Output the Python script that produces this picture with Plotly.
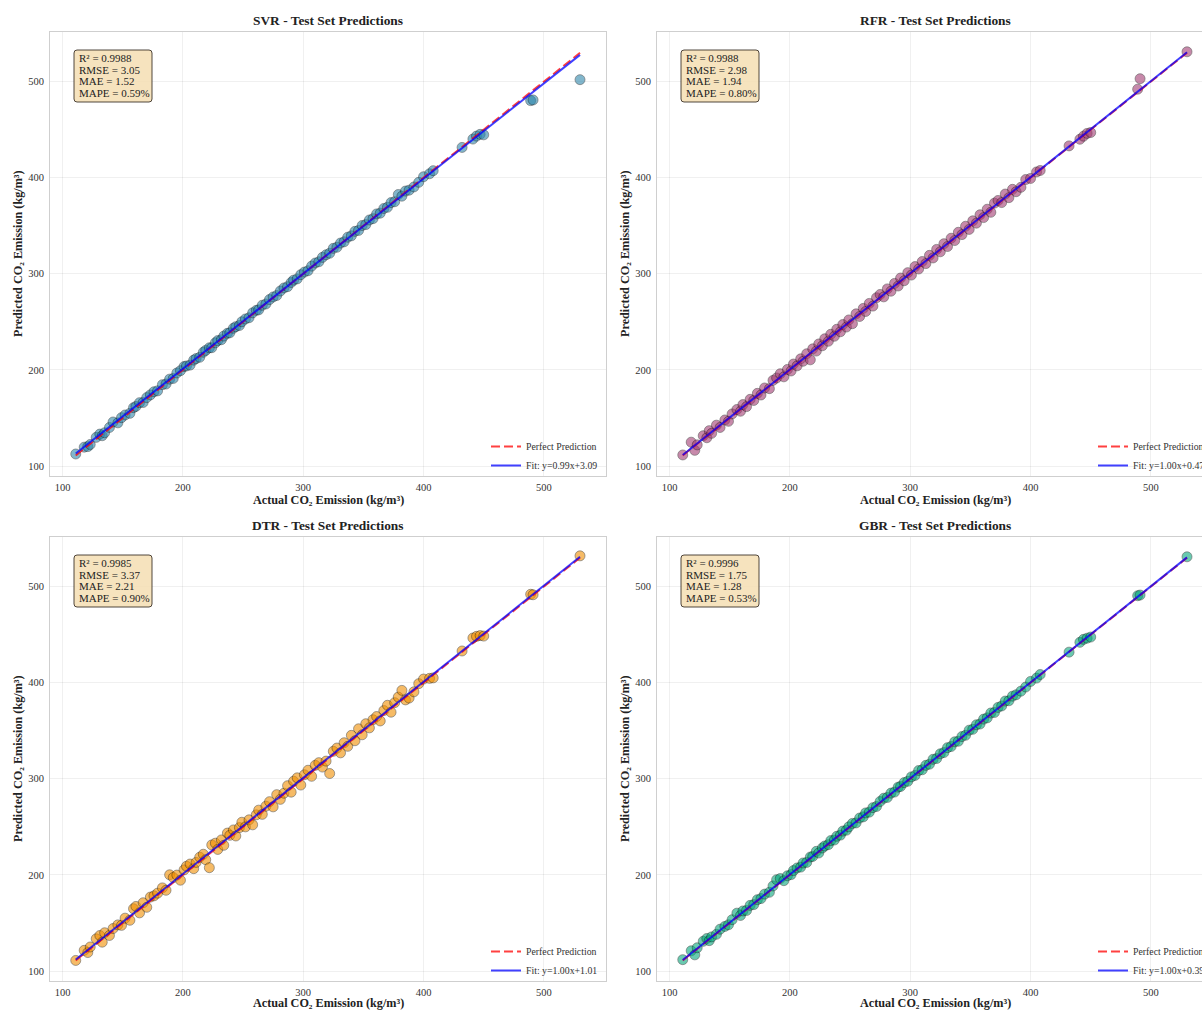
import plotly.graph_objects as go

W, H = 1202, 1010

models = ["SVR", "RFR", "DTR", "GBR"]

actual = [
    111, 118, 121, 123, 128, 131, 133, 135, 139, 142,
    146, 149, 152, 156, 159, 161, 164, 167, 170, 173,
    176, 179, 183, 186, 189, 192, 195, 198, 201, 203,
    206, 209, 211, 214, 217, 219, 222, 224, 227, 229,
    232, 234, 237, 239, 242, 244, 247, 249, 252, 255,
    258, 261, 263, 266, 269, 272, 275, 278, 281, 284,
    287, 290, 292, 295, 298, 301, 304, 307, 310, 313,
    316, 319, 322, 325, 328, 331, 334, 337, 340, 343,
    346, 349, 352, 355, 358, 361, 364, 367, 370, 373,
    376, 379, 382, 385, 388, 392, 396, 400, 405, 408,
    432, 441, 444, 447, 450, 489, 491, 530,
]

pred_svr = [
    112.5, 119.6, 120.2, 122.4, 129.8, 133.2, 131.5, 134.6, 140.1, 145.8,
    144.9, 150.3, 153.1, 154.8, 160.7, 162.0, 165.9, 166.1, 171.2, 174.0,
    177.3, 178.2, 184.6, 185.3, 190.4, 191.1, 196.8, 199.2, 203.5, 204.1,
    205.0, 210.2, 211.8, 213.1, 218.4, 220.3, 223.0, 223.1, 228.2, 230.5,
    231.4, 235.2, 238.1, 238.6, 243.4, 245.0, 246.2, 250.1, 253.0, 254.3,
    259.4, 262.0, 262.5, 267.3, 268.6, 273.2, 275.9, 277.4, 282.1, 285.3,
    286.6, 291.0, 293.4, 294.7, 299.1, 301.8, 303.2, 308.0, 311.2, 312.5,
    317.1, 319.8, 321.4, 326.5, 327.6, 332.0, 333.3, 338.1, 339.5, 344.2,
    345.1, 350.3, 351.2, 356.0, 357.4, 362.3, 363.1, 368.0, 369.2, 374.1,
    375.0, 382.5, 380.8, 386.1, 387.0, 390.4, 395.2, 401.0, 404.1, 407.3,
    431.5, 440.2, 443.3, 445.1, 444.6, 480.2, 480.9, 502.0,
]

pred_rfr = [
    111.5, 124.8, 116.3, 122.0, 131.5, 129.4, 136.8, 134.0, 142.5, 140.1,
    147.9, 146.5, 154.2, 158.8, 157.0, 163.9, 161.8, 169.4, 168.2, 175.6,
    173.9, 181.2, 180.5, 189.1, 191.6, 196.0, 192.8, 200.5, 198.9, 206.1,
    204.2, 211.5, 209.0, 216.8, 210.5, 221.9, 219.6, 227.0, 225.1, 232.4,
    229.8, 237.1, 235.0, 242.3, 239.7, 247.2, 244.6, 252.0, 248.1, 258.3,
    255.6, 264.0, 260.8, 269.2, 266.4, 275.1, 278.5, 276.0, 284.3, 281.9,
    290.0, 287.3, 295.6, 292.8, 301.2, 298.7, 307.5, 305.0, 312.8, 310.6,
    319.2, 316.5, 325.4, 322.9, 331.3, 328.4, 337.0, 334.6, 343.2, 340.8,
    349.5, 346.2, 355.1, 352.7, 361.4, 358.5, 367.2, 364.0, 373.5, 376.3,
    374.1, 383.0, 379.2, 387.9, 385.4, 390.0, 398.1, 399.2, 406.0, 407.5,
    433.1, 440.0, 443.2, 446.1, 447.0, 492.1, 503.0, 531.0,
]

pred_dtr = [
    111.0, 121.5, 119.2, 125.0, 133.5, 136.9, 130.0, 139.8, 137.0, 144.2,
    148.0, 147.5, 155.0, 152.8, 164.8, 167.2, 160.5, 171.0, 166.3, 176.9,
    178.2, 181.0, 186.5, 184.0, 200.1, 197.3, 199.8, 194.5, 205.2, 209.0,
    211.3, 206.5, 213.0, 218.4, 221.5, 215.8, 207.5, 231.2, 233.0, 226.5,
    236.4, 230.8, 243.5, 241.2, 246.8, 240.5, 249.2, 254.8, 250.0, 257.3,
    252.1, 262.5, 267.4, 263.0, 271.5, 276.2, 270.8, 283.5, 278.6, 285.0,
    292.8, 286.1, 297.5, 301.0, 293.5, 304.2, 308.9, 302.6, 314.0, 316.8,
    312.2, 318.4, 305.5, 328.6, 332.0, 327.0, 337.5, 333.8, 345.2, 339.6,
    352.0, 345.8, 357.3, 353.0, 361.5, 364.8, 360.2, 371.0, 376.5, 369.3,
    379.2, 385.0, 392.0, 382.1, 384.0, 390.5, 399.0, 403.8, 404.5, 405.0,
    433.0, 446.5, 448.2, 449.0, 448.5, 492.0, 491.5, 532.0,
]

pred_gbr = [
    111.8, 121.0, 116.8, 124.2, 130.9, 133.8, 131.6, 135.5, 138.2, 143.5,
    146.4, 148.1, 153.4, 160.2, 157.8, 162.5, 163.0, 168.3, 169.1, 174.2,
    175.4, 180.0, 181.9, 188.5, 195.0, 196.2, 194.0, 199.1, 200.3, 204.5,
    207.2, 208.1, 212.4, 213.0, 218.6, 219.2, 224.5, 222.8, 228.0, 230.1,
    231.5, 235.7, 236.3, 240.2, 241.4, 245.6, 246.5, 250.0, 253.6, 254.1,
    259.2, 260.4, 264.5, 265.3, 270.0, 271.2, 276.4, 279.8, 280.6, 285.1,
    286.2, 291.3, 292.0, 296.1, 297.4, 302.0, 303.5, 308.6, 309.4, 314.0,
    315.2, 320.3, 321.1, 326.0, 327.3, 332.4, 333.6, 338.5, 339.1, 344.0,
    345.3, 350.6, 351.5, 356.2, 357.0, 362.1, 363.4, 368.5, 369.0, 374.3,
    375.8, 380.9, 381.2, 386.0, 387.4, 391.2, 395.5, 401.3, 404.8, 408.5,
    431.8, 442.0, 445.1, 446.3, 447.5, 490.5, 491.2, 531.0,
]

predictions = [pred_svr, pred_rfr, pred_dtr, pred_gbr]
r2_vals = [0.9988, 0.9988, 0.9985, 0.9996]
rmse_vals = [3.05, 2.98, 3.37, 1.75]
mae_vals = [1.52, 1.94, 2.21, 1.28]
mape_vals = [0.59, 0.80, 0.90, 0.53]
fit_slope = [0.99, 1.00, 1.00, 1.00]
fit_intercept = [3.09, 0.47, 1.01, 0.39]
tick_vals = [100, 200, 300, 400, 500]

colors = ["#2E86AB", "#A23B72", "#F18F01", "#06A77D"]
FONT = "Liberation Serif"

# panel pixel boxes (x0, x1, y0, y1); right panels extend beyond the canvas
panels = [(50, 606, 32, 476), (657, 1213, 32, 476),
          (50, 606, 537, 981), (657, 1213, 537, 981)]
xtitle_offset = [23.5, 23.5, 22.0, 22.0]
R0, R1 = 89.6, 551.6  # full axis range across the full panel width


def px(x):
    return x / W


def py(y):
    return 1 - y / H


def rounded_rect(x0, y0, x1, y1, r):
    pts = [
        f"M {px(x0 + r)} {py(y0)}",
        f"L {px(x1 - r)} {py(y0)}",
        f"Q {px(x1)} {py(y0)} {px(x1)} {py(y0 + r)}",
        f"L {px(x1)} {py(y1 - r)}",
        f"Q {px(x1)} {py(y1)} {px(x1 - r)} {py(y1)}",
        f"L {px(x0 + r)} {py(y1)}",
        f"Q {px(x0)} {py(y1)} {px(x0)} {py(y1 - r)}",
        f"L {px(x0)} {py(y0 + r)}",
        f"Q {px(x0)} {py(y0)} {px(x0 + r)} {py(y0)}",
        "Z",
    ]
    return " ".join(pts)


fig = go.Figure()
annotations = []
shapes = []
layout_axes = {}

for i, name in enumerate(models):
    x0, x1, y0, y1 = panels[i]
    xs = "" if i == 0 else str(i + 1)
    xaxis_name = "xaxis" + xs
    yaxis_name = "yaxis" + xs
    leg = "legend" + ("" if i == 0 else str(i + 1))
    pred = predictions[i]

    vis_x1 = min(x1, W)
    xr1 = R0 + (vis_x1 - x0) / (x1 - x0) * (R1 - R0)

    fig.add_trace(go.Scatter(
        x=actual, y=pred, mode="markers", xaxis="x" + xs, yaxis="y" + xs,
        marker=dict(size=10, color=colors[i], opacity=0.6,
                    line=dict(color="black", width=0.6)),
        showlegend=False, legend=leg, name=name,
    ))
    lo, hi = min(actual), max(actual)
    fig.add_trace(go.Scatter(
        x=[lo, hi], y=[lo, hi], mode="lines", xaxis="x" + xs, yaxis="y" + xs,
        line=dict(color="rgba(255,0,0,0.75)", width=2, dash="9px,4px"),
        name="Perfect Prediction", legend=leg, showlegend=True,
    ))
    fig.add_trace(go.Scatter(
        x=[lo, hi],
        y=[fit_slope[i] * lo + fit_intercept[i], fit_slope[i] * hi + fit_intercept[i]],
        mode="lines", xaxis="x" + xs, yaxis="y" + xs,
        line=dict(color="rgba(0,0,255,0.75)", width=2),
        name=f"Fit: y={fit_slope[i]:.2f}x+{fit_intercept[i]:.2f}",
        legend=leg, showlegend=True,
    ))

    right_panel = i in (1, 3)
    layout_axes[xaxis_name] = dict(
        domain=[px(x0), px(vis_x1)], range=[R0, xr1], anchor="y" + xs,
        tickvals=tick_vals, ticks="", ticklabelstandoff=1,
        tickfont=dict(family=FONT, size=10.5, color="#333"),
        showgrid=True, gridcolor="rgba(0,0,0,0.06)", gridwidth=1,
        zeroline=False, showline=True, mirror=True,
        linecolor="#cfcfcf", linewidth=1,
    )
    layout_axes[yaxis_name] = dict(
        domain=[py(y1), py(y0)], range=[R0, R1], anchor="x" + xs,
        tickvals=tick_vals, ticks="", ticklabelstandoff=3,
        tickfont=dict(family=FONT, size=10.5, color="#333"),
        showgrid=True, gridcolor="rgba(0,0,0,0.06)", gridwidth=1,
        zeroline=False, showline=True, mirror=not right_panel,
        linecolor="#cfcfcf", linewidth=1,
    )

    cx = (x0 + x1) / 2
    cy = (y0 + y1) / 2
    annotations.append(dict(
        text=f"<b>{name} - Test Set Predictions</b>", xref="paper", yref="paper",
        x=px(cx), y=py(y0 - 12), xanchor="center", yanchor="middle",
        showarrow=False, font=dict(family=FONT, size=13.4, color="#222"),
    ))
    annotations.append(dict(
        text="<b>Actual CO₂ Emission (kg/m³)</b>", xref="paper", yref="paper",
        x=px(cx), y=py(y1 + xtitle_offset[i]), xanchor="center", yanchor="middle",
        showarrow=False, font=dict(family=FONT, size=12.2, color="#222"),
    ))
    annotations.append(dict(
        text="<b>Predicted CO₂ Emission (kg/m³)</b>", xref="paper", yref="paper",
        x=px(x0 - 32), y=py(cy), xanchor="center", yanchor="middle",
        textangle=-90, showarrow=False,
        font=dict(family=FONT, size=12.2, color="#222"),
    ))

    # stats box
    shapes.append(dict(
        type="path", xref="paper", yref="paper", layer="above",
        path=rounded_rect(x0 + 24, y0 + 18, x0 + 102, y0 + 70, 3),
        fillcolor="rgba(245,222,179,0.85)",
        line=dict(color="rgba(50,40,30,0.85)", width=1),
    ))
    stat_lines = [
        f"R² = {r2_vals[i]:.4f}",
        f"RMSE = {rmse_vals[i]:.2f}",
        f"MAE = {mae_vals[i]:.2f}",
        f"MAPE = {mape_vals[i]:.2f}%",
    ]
    for k, s in enumerate(stat_lines):
        annotations.append(dict(
            text=s, xref="paper", yref="paper",
            x=px(x0 + 27), y=py(y0 + 26 + 11.7 * k),
            xanchor="left", yanchor="middle", showarrow=False,
            font=dict(family=FONT, size=11, color="#222"),
        ))

    layout_axes[leg] = dict(
        x=px(x1 - 120), y=py(y1 - 20), xanchor="left", yanchor="middle",
        xref="paper", yref="paper", bgcolor="rgba(0,0,0,0)",
        font=dict(family=FONT, size=9.8, color="#333"), itemwidth=30,
        tracegroupgap=0,
    )

fig.update_layout(
    width=W, height=H,
    margin=dict(l=0, r=0, t=0, b=0, autoexpand=False),
    paper_bgcolor="white", plot_bgcolor="white",
    font=dict(family=FONT, size=10, color="#333"),
    annotations=annotations, shapes=shapes,
    **layout_axes,
)

fig.write_html(
    "out.html",
    config={"displayModeBar": False},
    post_script="document.body.style.margin='0px';document.body.style.overflow='hidden';",
)
